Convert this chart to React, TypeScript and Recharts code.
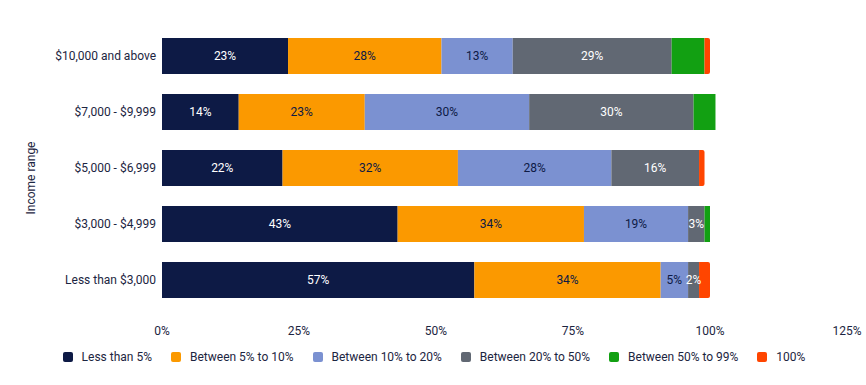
import { BarChart, Bar, XAxis, YAxis, Legend, LabelList } from 'recharts';

const incomeRanges = ['$10,000 and above', '$7,000 - $9,999', '$5,000 - $6,999', '$3,000 - $4,999', 'Less than $3,000'];

const lessThan5 = [23, 14, 22, 43, 57];
const between5to10 = [28, 23, 32, 34, 34];
const between10to20 = [13, 30, 28, 19, 5];
const between20to50 = [29, 30, 16, 3, 2];
const between50to99 = [6, 4, 0, 1, 0];
const full100 = [1, 0, 1, 0, 2];

const xTicks = [0, 25, 50, 75, 100, 125];

const series = [
  { key: 'lt5', name: 'Less than 5%', color: '#0d1a45', text: '#ffffff', values: lessThan5, label: true },
  { key: 'b5', name: 'Between 5% to 10%', color: '#fb9900', text: '#0d1a45', values: between5to10, label: true },
  { key: 'b10', name: 'Between 10% to 20%', color: '#7b91d1', text: '#0d1a45', values: between10to20, label: true },
  { key: 'b20', name: 'Between 20% to 50%', color: '#616873', text: '#ffffff', values: between20to50, label: true },
  { key: 'b50', name: 'Between 50% to 99%', color: '#12a012', text: '#ffffff', values: between50to99, label: false },
  { key: 'all', name: '100%', color: '#ff4500', text: '#ffffff', values: full100, label: false },
];

const data = incomeRanges.map((range, i) => {
  const row: any = { range };
  series.forEach((s) => {
    row[s.key] = s.values[i];
  });
  return row;
});

const font = 'Roboto, sans-serif';
const textColor = '#1c2541';

function ChartLegend() {
  return (
    <div style={{ display: 'flex', justifyContent: 'center', alignItems: 'center', height: 20, fontFamily: font, fontSize: 12, color: textColor, paddingLeft: 20 }}>
      {series.map((s) => (
        <div key={s.key} style={{ display: 'flex', alignItems: 'center', marginRight: 19 }}>
          <span style={{ width: 10, height: 10, background: s.color, borderRadius: 2, marginRight: 9, display: 'inline-block' }} />
          <span>{s.name}</span>
        </div>
      ))}
    </div>
  );
}

export default function App() {
  return (
    <div style={{ position: 'absolute', left: 0, top: 0, width: 866, height: 385, background: '#fff' }}>
      <BarChart
        width={866}
        height={385}
        data={data}
        layout="vertical"
        margin={{ top: 28, right: 19, bottom: 18, left: 20 }}
        barSize={36}
      >
        <XAxis
          type="number"
          domain={[0, 125]}
          ticks={xTicks}
          tickFormatter={(v) => `${v}%`}
          axisLine={false}
          tickLine={false}
          tickSize={0}
          tickMargin={18}
          height={39}
          tick={{ fill: textColor, fontSize: 12, fontFamily: font }}
        />
        <YAxis
          type="category"
          dataKey="range"
          width={142}
          axisLine={false}
          tickLine={false}
          tickSize={0}
          tickMargin={6}
          tick={{ fill: textColor, fontSize: 12, fontFamily: font }}
          label={{ value: 'Income range', angle: -90, position: 'insideLeft', dx: 6, dy: 10, fill: textColor, fontSize: 12, fontFamily: font, style: { textAnchor: 'middle' } }}
        />
        <Legend verticalAlign="bottom" height={20} content={() => <ChartLegend />} />
        {series.map((s, idx) => (
          <Bar
            key={s.key}
            dataKey={s.key}
            name={s.name}
            stackId="a"
            fill={s.color}
            isAnimationActive={false}
            radius={idx === series.length - 1 ? [0, 2, 2, 0] : 0}
          >
            {s.label && (
              <LabelList
                dataKey={s.key}
                position="center"
                formatter={(v: any) => (v ? `${v}%` : '')}
                fill={s.text}
                style={{ fontSize: 12, fontFamily: font }}
              />
            )}
          </Bar>
        ))}
      </BarChart>
    </div>
  );
}
